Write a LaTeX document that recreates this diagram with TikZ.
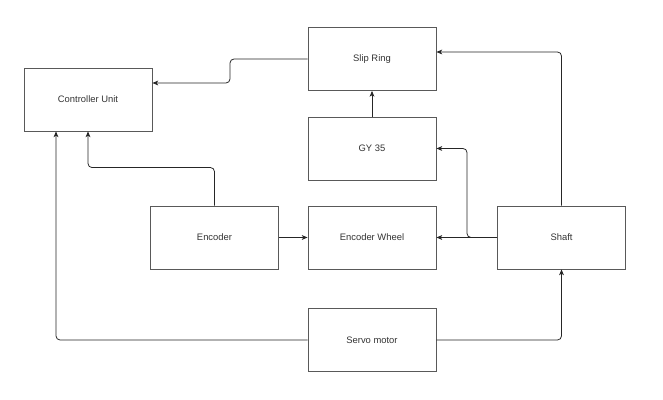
\documentclass[tikz,border=0pt]{standalone}
\usepackage{fontspec}
\setmainfont{Liberation Sans}
\usepackage{tikz}
\usetikzlibrary{arrows.meta}

\begin{document}
\begin{tikzpicture}[
    block/.style={draw=black!65, line width=1pt, minimum width=5.12cm, minimum height=2.52cm,
        text=black!80, font=\fontsize{10.7}{13}\selectfont},
    link/.style={draw=black!85, line width=0.9pt, rounded corners=0.16cm,
        -{Stealth[length=2.3mm, width=1.9mm, inset=0.6mm]}}
]
    \useasboundingbox (0, 0) rectangle (26.52, 16);

    \node[block] at (3.52, 12.02) (cu) {Controller Unit};
    \node[block] at (14.88, 13.64) (sr) {Slip Ring};
    \node[block] at (14.88, 10.06) (gy) {GY 35};
    \node[block] at (8.58, 6.50) (enc) {Encoder};
    \node[block] at (14.88, 6.50) (ew) {Encoder Wheel};
    \node[block] at (22.46, 6.50) (sh) {Shaft};
    \node[block] at (14.88, 2.40) (sm) {Servo motor};

    \draw[link] (sr.west) -- (9.2, 13.64) |- ([yshift=0.66cm]cu.east);
    \draw[link] (gy) -- (sr);
    \draw[link] (enc.north) -- ++(0, 1.52) -| (cu.south);
    \draw[link] (enc) -- (ew);
    \draw[link] (sh) -- (ew);
    \draw[link] (sh.west) -- (18.68, 6.50) |- (gy.east);
    \draw[link] (sh.north) |- ([yshift=0.28cm]sr.east);
    \draw[link] (sm.west) -| ([xshift=-1.28cm]cu.south);
    \draw[link] (sm.east) -| (sh.south);
\end{tikzpicture}
\end{document}
